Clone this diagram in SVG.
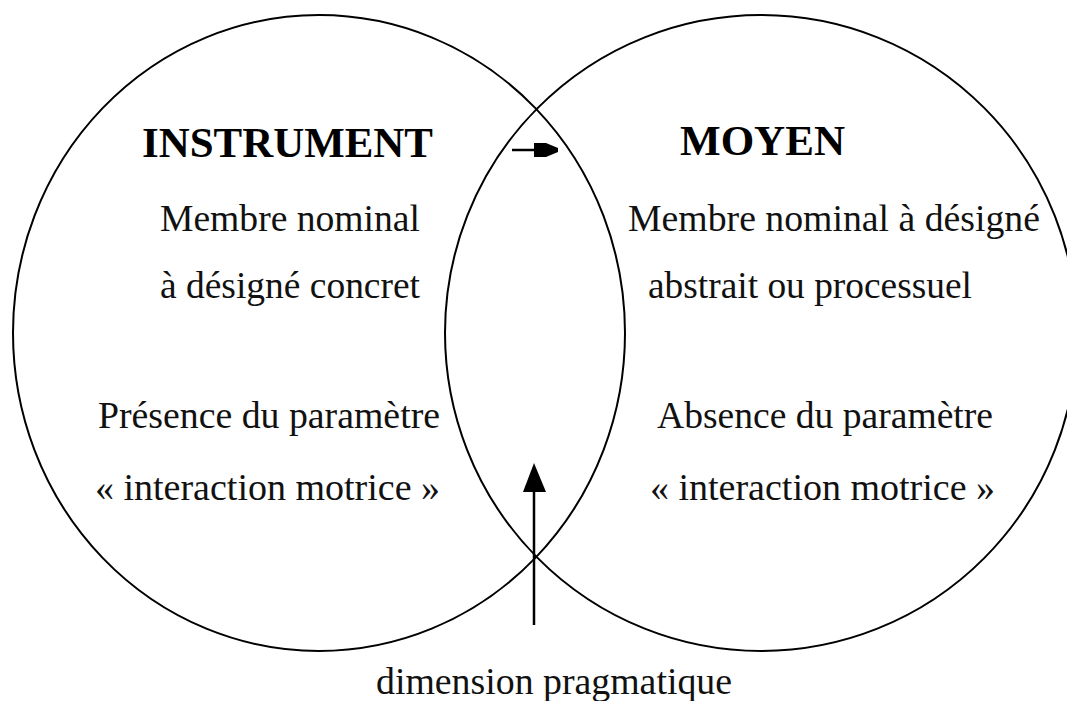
<svg xmlns="http://www.w3.org/2000/svg" width="1067" height="701" viewBox="0 0 1067 701">
<style>
.c{fill:none;stroke:#000;stroke-width:2}
.t{font-family:"Liberation Serif","Times New Roman",serif;font-size:37px;fill:#111;text-anchor:start}
.b{font-family:"Liberation Serif","Times New Roman",serif;font-size:43px;font-weight:bold;fill:#000}
.l{stroke:#000;stroke-width:2.5;fill:none}
</style>
<g id="instrument">
<ellipse class="c" cx="319" cy="333" rx="306" ry="318"/>
<text class="b" x="142" y="157" textLength="291" lengthAdjust="spacingAndGlyphs">INSTRUMENT</text>
<text class="t" x="160" y="231" textLength="260" lengthAdjust="spacingAndGlyphs">Membre nominal</text>
<text class="t" x="160" y="298" textLength="260" lengthAdjust="spacingAndGlyphs">à désigné concret</text>
<text class="t" x="98" y="428" textLength="342" lengthAdjust="spacingAndGlyphs">Présence du paramètre</text>
<text class="t" x="95" y="500" textLength="345" lengthAdjust="spacingAndGlyphs">« interaction motrice »</text>
</g>
<g id="moyen">
<ellipse class="c" cx="761" cy="333" rx="316" ry="318"/>
<text class="b" x="680" y="155" textLength="165" lengthAdjust="spacingAndGlyphs">MOYEN</text>
<text class="t" x="628" y="231" textLength="412" lengthAdjust="spacingAndGlyphs">Membre nominal à désigné</text>
<text class="t" x="648" y="298" textLength="324" lengthAdjust="spacingAndGlyphs">abstrait ou processuel</text>
<text class="t" x="657" y="428" textLength="336" lengthAdjust="spacingAndGlyphs">Absence du paramètre</text>
<text class="t" x="650" y="500" textLength="345" lengthAdjust="spacingAndGlyphs">« interaction motrice »</text>
</g>
<g id="pragmatique">
<text class="t" x="376" y="694" textLength="356" lengthAdjust="spacingAndGlyphs">dimension pragmatique</text>
</g>
<g id="connectors">
<line class="l" x1="512" y1="150" x2="540" y2="150"/>
<polygon points="534,143 546,143 558,148 558,152 546,157 534,157" fill="#000"/>
<line class="l" x1="534" y1="625" x2="534" y2="488"/>
<polygon points="534,463 546,492 523,492" fill="#000"/>
</g>
</svg>
